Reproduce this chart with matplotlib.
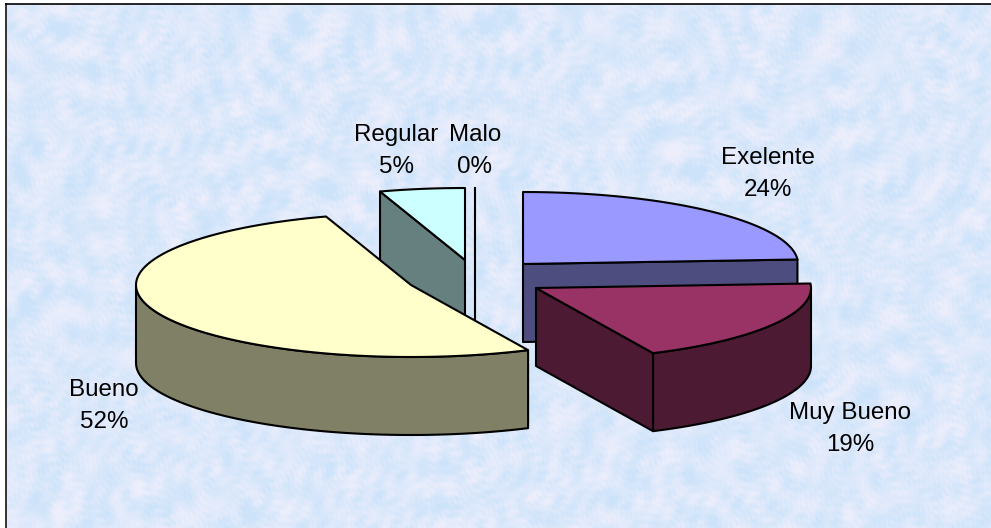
import numpy as np
import matplotlib
matplotlib.use("Agg")
import matplotlib.pyplot as plt
from matplotlib.patches import Polygon

# Data
categories = ["Exelente", "Muy Bueno", "Bueno", "Regular", "Malo"]
values = [24, 19, 52, 5, 0]

# Styles and placement (pixels)
top_colors = ["#9999ff", "#993366", "#ffffcc", "#ccffff", "#ffffff"]
side_colors = ["#4d4d80", "#4d1a33", "#808066", "#668080", "#808080"]
apex_x = [523, 536, 411, 465, 475]
apex_y = [264, 288, 285, 260, 260]
draw_order = [4, 3, 0, 2, 1]
label_x = [768, 850, 104, 396, 475]
label_y = [174, 429, 406, 151, 151]
RX, RY, DEPTH = 275, 72, 78
W, H = 991, 528

plt.rcParams["font.family"] = ["Liberation Sans", "DejaVu Sans"]
fig = plt.figure(figsize=(W / 100, H / 100), dpi=100, facecolor="white")
ax = fig.add_axes([0, 0, 1, 1])
ax.set_xlim(0, W)
ax.set_ylim(H, 0)
ax.axis("off")

# Mottled paper background: many short waves in evenly spread directions
yy, xx = np.mgrid[0:H, 0:W].astype(float)
tex = np.zeros_like(xx)
golden = np.pi * (3 - np.sqrt(5))
for n in range(90):
    wavelength = 5 + 60 * ((n * 0.618034) % 1) ** 2
    angle = n * golden
    k = 2 * np.pi / wavelength
    warp = 1.6 * np.sin(0.021 * xx * np.cos(n) + 0.019 * yy * np.sin(n) + n)
    tex += (wavelength / 60 + 0.45) * np.sin(k * (np.cos(angle) * xx + np.sin(angle) * yy) + 1.3 * n + warp)
lo, hi = np.percentile(tex, [1, 99])
tex = np.clip((tex - lo) / (hi - lo), 0, 1)
c0 = np.array([204, 227, 250]) / 255
c1 = np.array([236, 238, 252]) / 255
img = c0 + (c1 - c0) * tex[..., None]
ax.imshow(img, extent=(6, W, H, 4), aspect="auto", zorder=0, interpolation="bilinear")
ax.set_xlim(0, W)
ax.set_ylim(H, 0)
ax.plot([6, 6], [4, H], color="#333333", lw=1.4, zorder=1)
ax.plot([6, W], [4, 4], color="#000000", lw=1.2, zorder=1)

LW = 1.5


def rim(cx, cy, t):
    return cx + RX * np.sin(t), cy - RY * np.cos(t)


total = sum(values)
edges = np.concatenate([[0], np.cumsum(values)]) / total * 2 * np.pi

z = 2
for i in draw_order:
    a0, a1 = edges[i], edges[i + 1]
    cx, cy = apex_x[i], apex_y[i]
    kw = dict(edgecolor="black", linewidth=LW, joinstyle="round")

    # Flat radial faces that look towards the viewer
    for ang, visible in ((a0, np.sin(a0) < -1e-9), (a1, np.sin(a1) > 1e-9)):
        if visible:
            ex, ey = rim(cx, cy, ang)
            ax.add_patch(Polygon([(cx, cy), (ex, ey), (ex, ey + DEPTH), (cx, cy + DEPTH)],
                                 facecolor=side_colors[i], zorder=z, **kw))
            z += 1

    # Curved outer wall on the near half
    f0, f1 = max(a0, np.pi / 2), min(a1, 3 * np.pi / 2)
    if f1 > f0:
        t = np.linspace(f0, f1, 60)
        x, y = rim(cx, cy, t)
        pts = list(zip(x, y)) + list(zip(x[::-1], y[::-1] + DEPTH))
        ax.add_patch(Polygon(pts, facecolor=side_colors[i], zorder=z, **kw))
        z += 1

    # Top surface
    if a1 - a0 > 1e-9:
        t = np.linspace(a0, a1, 90)
        x, y = rim(cx, cy, t)
        pts = [(cx, cy)] + list(zip(x, y))
        ax.add_patch(Polygon(pts, facecolor=top_colors[i], zorder=z, **kw))
    else:
        ex, ey = rim(cx, cy, a0)
        ax.plot([ex, ex], [ey, cy + DEPTH], color="black", lw=LW, zorder=z)
    z += 1

for name, val, lx, ly in zip(categories, values, label_x, label_y):
    ax.text(lx, ly, f"{name}\n{val}%", ha="center", va="center", fontsize=17.4,
            linespacing=1.55, color="black", zorder=50)

fig.savefig("out.png", dpi=100, facecolor="white")
